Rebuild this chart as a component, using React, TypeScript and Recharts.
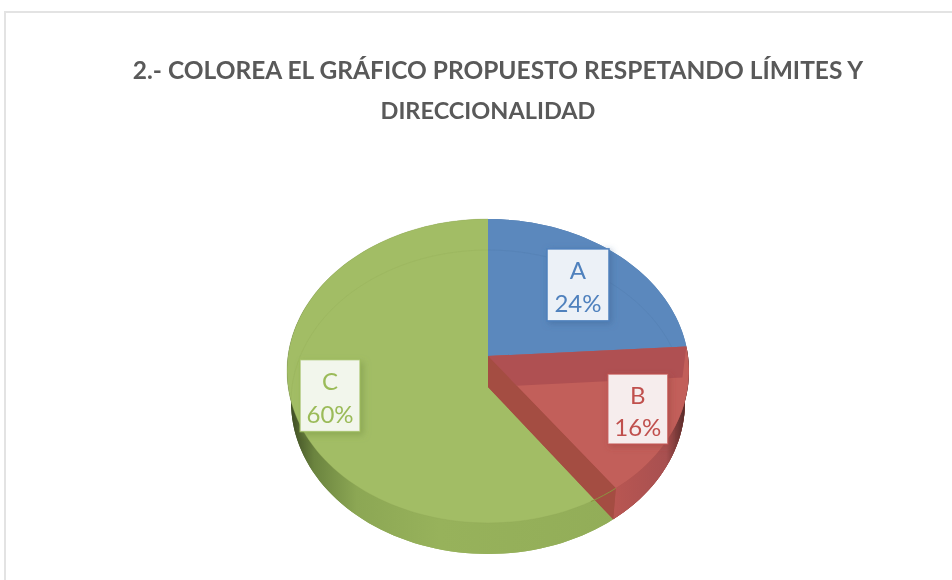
import React from "react";
import { PieChart, Pie } from "recharts";

const categories = ["A", "B", "C"];
const shares = [24, 16, 60];
const percentLabels = ["24%", "16%", "60%"];
const titleLine1 = "2.- COLOREA EL GRÁFICO PROPUESTO RESPETANDO LÍMITES Y";
const titleLine2 = "DIRECCIONALIDAD";

const tableRows = categories.map((name, i) => ({ name, value: shares[i], pct: percentLabels[i] }));

const FILL: Record<string, string> = { A: "#5b88bd", B: "#c25f5a", C: "#a2bd65" };
const SIDE: Record<string, string> = { A: "#4f7bad", B: "url(#sideB)", C: "url(#sideC)" };
const TEXT: Record<string, string> = { A: "#4f81bd", B: "#c0504d", C: "#9bbb59" };
const BOX: Record<string, string> = { A: "#ecf1f7", B: "#f6eded", C: "#f2f6ec" };
const LABEL_R: Record<string, number> = { A: 0.69, B: 0.8, C: 0.81 };
const LABEL_DY: Record<string, number> = { A: 1, B: 0, C: 1 };

const CX = 488;
const CY = 356;
const SX = 200;
const SY = 150.5;
const K = 0.0987;
const DEPTH = 31;
const FLOOR_SCALE = 0.98;

// perspective projection of a point of the unit disc; angle in recharts degrees
const proj = (deg: number, r = 1, dz = 0): [number, number] => {
  const a = (deg * Math.PI) / 180;
  const u = Math.cos(a) * r;
  const v = Math.sin(a) * r;
  const w = 1 + K * v;
  const sx = dz > 0 ? SX * FLOOR_SCALE : SX;
  return [CX + (sx * u) / w, CY - (SY * v) / w + dz];
};

const arcPts = (from: number, to: number, dz = 0) => {
  const n = Math.max(4, Math.ceil(Math.abs(to - from) / 2));
  const out: string[] = [];
  for (let i = 0; i <= n; i++) {
    const p = proj(from + ((to - from) * i) / n, 1, dz);
    out.push(`${p[0].toFixed(2)} ${p[1].toFixed(2)}`);
  }
  return out;
};

const sectorPath = (from: number, to: number, dz = 0) => {
  const c = proj(0, 0, dz);
  return `M${c[0]} ${c[1]} L${arcPts(from, to, dz).join(" L")} Z`;
};

const band = (from: number, to: number) =>
  `M${arcPts(from, to, 0).join(" L")} L${arcPts(to, from, DEPTH).join(" L")} Z`;

const wall = (deg: number) => {
  const a = proj(0, 0, 0);
  const b = proj(deg, 1, 0);
  const c = proj(deg, 1, DEPTH);
  const d = proj(0, 0, DEPTH);
  return `M${a[0]} ${a[1]} L${b[0]} ${b[1]} L${c[0]} ${c[1]} L${d[0]} ${d[1]} Z`;
};

const SideShape = (p: any) => {
  const name = p.name ?? p.payload?.name;
  return (
    <g>
      <path d={sectorPath(p.startAngle, p.endAngle, DEPTH)} fill={SIDE[name]} />
      <path d={band(p.startAngle, p.endAngle)} fill={SIDE[name]} />
    </g>
  );
};

const TopShape = (p: any) => {
  const name = p.name ?? p.payload?.name;
  if (name === "B") return <g />;
  return (
    <g>
      <path d={sectorPath(p.startAngle, p.endAngle)} fill={FILL[name]} />
      <path
        d={`M${arcPts(p.startAngle, p.endAngle, DEPTH).join(" L")}`}
        fill="none"
        stroke={name === "A" ? "#4f7bad" : "#94ae5a"}
        strokeOpacity={0.35}
        strokeWidth={1}
        clipPath="url(#topFace)"
      />
      <path d={`M${arcPts(p.startAngle, p.endAngle).join(" L")}`} fill="none" stroke="#8ea656" strokeOpacity={name === "C" ? 0.3 : 0} strokeWidth={1} />
    </g>
  );
};

const CutShape = (p: any) => {
  const name = p.name ?? p.payload?.name;
  if (name !== "B") return <g />;
  return (
    <g>
      <path d={sectorPath(p.startAngle, p.endAngle, DEPTH)} fill="#a44d46" />
      <path d={band(p.startAngle, p.endAngle)} fill="url(#sideB)" />
      <path d={sectorPath(p.startAngle, p.endAngle)} fill={FILL.B} />
      <path d={wall(p.startAngle)} fill="#af5052" />
      <path d={wall(p.endAngle)} fill="#a44d42" />
      <path d={`M${arcPts(p.endAngle, p.endAngle - 8).join(" L")}`} fill="none" stroke="#8c9440" strokeWidth={1} />
    </g>
  );
};

const renderLabel = (p: any) => {
  const name = p.name ?? p.payload?.name;
  const pct = p.pct ?? p.payload?.pct;
  const [x, y0] = proj(p.midAngle, LABEL_R[name]);
  const y = y0 + LABEL_DY[name];
  const w = name === "A" ? 62 : 60;
  const h = name === "B" ? 70 : 72;
  return (
    <g key={name}>
      <rect
        x={x - w / 2}
        y={y - h / 2}
        width={w}
        height={h}
        fill={BOX[name]}
        stroke={TEXT[name]}
        strokeOpacity={name === "A" ? 1 : 0.7}
        strokeWidth={1.5}
        filter={`url(#shadow${name})`}
      />
      <text x={x} y={y - 5.5} textAnchor="middle" fontFamily="Lato, 'Open Sans', sans-serif" fontSize={24} fill={TEXT[name]}>
        {name}
      </text>
      <text x={x} y={y + 27} textAnchor="middle" fontFamily="Lato, 'Open Sans', sans-serif" fontSize={24} fill={TEXT[name]}>
        {pct}
      </text>
    </g>
  );
};

const titleStyle: React.CSSProperties = {
  position: "absolute",
  textAlign: "center",
  fontFamily: "Lato, 'Open Sans', sans-serif",
  fontWeight: 700,
  lineHeight: "30px",
  color: "#595959",
  whiteSpace: "nowrap",
};

export default function App() {
  const common = {
    data: tableRows,
    dataKey: "value",
    nameKey: "name",
    cx: CX,
    cy: CY,
    outerRadius: 150,
    startAngle: 90,
    endAngle: -270,
    paddingAngle: 0,
    stroke: "none",
    isAnimationActive: false,
    labelLine: false,
    legendType: "none" as const,
  };
  return (
    <div style={{ position: "absolute", left: 0, top: 0, width: 952, height: 580, overflow: "hidden", background: "#fff", filter: "blur(0.4px)" }}>
      <div style={{ position: "absolute", left: 4, top: 11, width: 960, height: 600, border: "2px solid #e3e3e3", boxSizing: "border-box" }} />
      <div style={{ ...titleStyle, left: 0, top: 55, width: 996, fontSize: 24.5 }}>{titleLine1}</div>
      <div style={{ ...titleStyle, left: 0, top: 95, width: 976, fontSize: 23.5 }}>{titleLine2}</div>
      <div style={{ position: "absolute", left: 0, top: 0 }}>
        <PieChart width={952} height={580} margin={{ top: 0, right: 0, bottom: 0, left: 0 }}>
          <defs>
            <linearGradient id="sideC" gradientUnits="userSpaceOnUse" x1="291" y1="0" x2="620" y2="0">
              <stop offset="0" stopColor="#3f4d24" />
              <stop offset="0.07" stopColor="#6b843f" />
              <stop offset="0.2" stopColor="#8ca754" />
              <stop offset="0.45" stopColor="#97b25b" />
              <stop offset="1" stopColor="#92ad58" />
            </linearGradient>
            <linearGradient id="sideB" gradientUnits="userSpaceOnUse" x1="615" y1="0" x2="688" y2="0">
              <stop offset="0" stopColor="#b85652" />
              <stop offset="0.7" stopColor="#a85050" />
              <stop offset="1" stopColor="#4a2422" />
            </linearGradient>
            <clipPath id="topFace">
              <path d={sectorPath(90, -270)} />
            </clipPath>
            <filter id="shadowA" x="-30%" y="-30%" width="160%" height="160%">
              <feDropShadow dx="2" dy="2" stdDeviation="3" floodColor="#3f6796" floodOpacity="0.55" />
            </filter>
            <filter id="shadowB" x="-30%" y="-30%" width="160%" height="160%">
              <feDropShadow dx="2" dy="2" stdDeviation="3" floodColor="#9a403e" floodOpacity="0.5" />
            </filter>
            <filter id="shadowC" x="-30%" y="-30%" width="160%" height="160%">
              <feDropShadow dx="3" dy="3" stdDeviation="3" floodColor="#7c9647" floodOpacity="0.55" />
            </filter>
          </defs>
          <Pie {...common} shape={SideShape} />
          <Pie {...common} shape={TopShape} />
          <Pie {...common} shape={CutShape} label={renderLabel} />
        </PieChart>
      </div>
    </div>
  );
}
